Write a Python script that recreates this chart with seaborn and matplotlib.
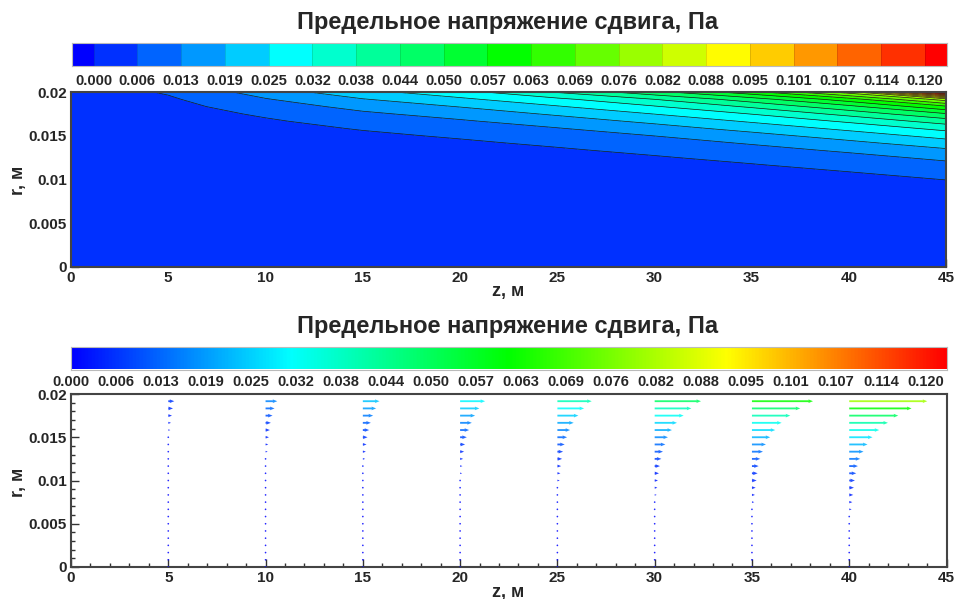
import numpy as np
import matplotlib
matplotlib.use("Agg")
import matplotlib.pyplot as plt
import seaborn as sns
from matplotlib.colors import ListedColormap, Normalize
from matplotlib.ticker import MultipleLocator

# ---------------- data ----------------
title = "Предельное напряжение сдвига, Па"
x_label = "z, м"
y_label = "r, м"

# colour-bar level labels (Pa)
level_labels = ["0.000", "0.006", "0.013", "0.019", "0.025", "0.032", "0.038",
                "0.044", "0.050", "0.057", "0.063", "0.069", "0.076", "0.082",
                "0.088", "0.095", "0.101", "0.107", "0.114", "0.120"]
level_min, level_max = 0.0, 0.12

x_ticks = [0, 5, 10, 15, 20, 25, 30, 35, 40, 45]
x_tick_labels = ["0", "5", "10", "15", "20", "25", "30", "35", "40", "45"]
y_ticks = [0.0, 0.005, 0.01, 0.015, 0.02]
y_tick_labels = ["0", "0.005", "0.01", "0.015", "0.02"]

# grid stations (r ascending, last one is the wall r = 0.02)
z_nodes = [0, 5, 10, 15, 20, 25, 30, 35, 40, 45]
r_nodes = [0.0, 0.000833, 0.001667, 0.0025, 0.003333, 0.004167, 0.005, 0.005833,
           0.006667, 0.0075, 0.008333, 0.009167, 0.01, 0.010833, 0.011667, 0.0125,
           0.013333, 0.014167, 0.015, 0.015833, 0.016667, 0.0175, 0.018333, 0.019167,
           0.02]

# limit shear stress, mPa, at each r node
tau_mPa_z00 = [0] * 17 + [0.2, 0.4, 0.6, 0.9, 1.2, 1.5, 2.0, 2.5]
tau_mPa_z05 = [0] * 12 + [0.06, 0.26, 0.46, 0.69, 0.99, 1.29, 1.65, 2.15, 2.71,
                          3.44, 4.30, 5.42, 7.00]
tau_mPa_z10 = [0] * 9 + [0.08, 0.28, 0.48, 0.72, 1.02, 1.32, 1.70, 2.20, 2.78,
                         3.52, 4.40, 5.56, 7.20, 9.44, 12.2, 15.5]
tau_mPa_z15 = [0] * 7 + [0.03, 0.23, 0.43, 0.65, 0.95, 1.25, 1.58, 2.08, 2.61,
                         3.33, 4.16, 5.22, 6.72, 8.82, 11.5, 14.6, 18.6, 23.3]
tau_mPa_z20 = [0] * 6 + [0.06, 0.26, 0.46, 0.69, 0.99, 1.29, 1.65, 2.15, 2.71,
                         3.44, 4.30, 5.42, 7.00, 9.18, 11.9, 15.1, 19.2, 24.0, 29.3]
tau_mPa_z25 = [0] * 5 + [0.09, 0.29, 0.49, 0.73, 1.03, 1.33, 1.72, 2.22, 2.81,
                         3.55, 4.44, 5.62, 7.28, 9.54, 12.3, 15.7, 19.9, 24.7, 30.1,
                         38.5]
tau_mPa_z30 = [0] * 4 + [0.12, 0.32, 0.52, 0.77, 1.07, 1.37, 1.79, 2.29, 2.91,
                         3.66, 4.58, 5.81, 7.56, 9.91, 12.7, 16.2, 20.5, 25.4, 31.0,
                         37.9, 48.5]
tau_mPa_z35 = [0] * 3 + [0.14, 0.34, 0.54, 0.82, 1.12, 1.42, 1.86, 2.36, 3.00,
                         3.78, 4.72, 6.01, 7.84, 10.3, 13.2, 16.7, 21.2, 26.1, 31.8,
                         38.9, 47.5, 61.0]
tau_mPa_z40 = [0, 0, 0.17, 0.37, 0.57, 0.86, 1.16, 1.46, 1.93, 2.43, 3.10, 3.89,
               4.86, 6.20, 8.12, 10.6, 13.6, 17.3, 21.8, 26.8, 32.7, 40.0, 48.7,
               60.3, 79.0]
tau_mPa_z45 = [0, 0.2, 0.4, 0.6, 0.9, 1.2, 1.5, 2.0, 2.5, 3.2, 4.0, 5.0,
               6.4, 8.4, 11.0, 14.0, 17.8, 22.5, 27.5, 33.5, 41.0, 50.0, 62.0,
               79.0, 125.0]

# lower panel: arrow stations and arrow lengths (relative units, r ascending,
# one value per r node below the wall)
z_arrows = [5, 10, 15, 20, 25, 30, 35, 40]
vec_z05 = [0, 0.02, 0.03, 0.04, 0.05, 0.06, 0.08, 0.10, 0.12, 0.15, 0.20, 0.25,
           0.30, 0.40, 0.50, 0.60, 0.80, 1.0, 1.3, 2.0, 2.7, 3.7, 4.7, 6.0]
vec_z10 = [0, 0.03, 0.05, 0.08, 0.10, 0.15, 0.20, 0.25, 0.30, 0.40, 0.50, 0.60,
           0.80, 1.0, 1.3, 1.7, 2.1, 2.7, 3.4, 4.3, 5.3, 7.0, 9.0, 11.7]
vec_z15 = [0, 0.04, 0.07, 0.10, 0.15, 0.20, 0.27, 0.35, 0.45, 0.55, 0.70, 0.90,
           1.1, 1.4, 1.7, 2.3, 3.0, 3.7, 4.7, 6.3, 8.0, 10.3, 13.3, 16.7]
vec_z20 = [0, 0.04, 0.08, 0.12, 0.18, 0.25, 0.35, 0.45, 0.60, 0.80, 1.0, 1.2,
           1.6, 2.0, 2.3, 3.0, 4.0, 5.0, 6.7, 9.0, 11.7, 15.0, 19.3, 25.0]
vec_z25 = [0, 0.05, 0.10, 0.16, 0.24, 0.33, 0.45, 0.60, 0.80, 1.0, 1.3, 1.7,
           2.3, 3.0, 3.7, 4.7, 5.7, 7.3, 9.7, 12.7, 16.3, 21.0, 26.7, 34.3]
vec_z30 = [0, 0.07, 0.15, 0.24, 0.35, 0.50, 0.70, 0.90, 1.2, 1.6, 2.0, 2.7,
           3.3, 4.3, 5.3, 6.7, 8.3, 10.7, 13.3, 17.3, 22.3, 29.0, 36.7, 46.3]
vec_z35 = [0, 0.10, 0.20, 0.33, 0.50, 0.75, 1.0, 1.4, 1.8, 2.3, 3.0, 3.7,
           4.7, 5.7, 6.7, 8.3, 11.0, 14.0, 18.3, 23.3, 29.7, 38.3, 48.3, 61.0]
vec_z40 = [0, 0.12, 0.27, 0.45, 0.70, 1.0, 1.35, 1.8, 2.4, 3.1, 4.0, 4.7,
           5.7, 7.0, 8.7, 11.0, 14.3, 18.3, 23.3, 30.0, 38.7, 49.0, 62.3, 78.0]

# ---------------- assemble ----------------
profiles = [tau_mPa_z00, tau_mPa_z05, tau_mPa_z10, tau_mPa_z15, tau_mPa_z20,
            tau_mPa_z25, tau_mPa_z30, tau_mPa_z35, tau_mPa_z40, tau_mPa_z45]
T_full = np.array(profiles, dtype=float).T * 1e-3          # (25, 10) in Pa
R_full = np.array(r_nodes)
Zg, Rg = np.meshgrid(np.array(z_nodes, float), R_full)

arrow_idx = [z_nodes.index(z) for z in z_arrows]
n_arrow_rows = len(vec_z05)
# each vector is coloured by the nodal value on the outer face of its cell
T_arr = T_full[1:n_arrow_rows + 1, arrow_idx]
V_arr = np.array([vec_z05, vec_z10, vec_z15, vec_z20, vec_z25, vec_z30,
                  vec_z35, vec_z40], dtype=float).T
Xq, Yq = np.meshgrid(np.array(z_arrows, float), R_full[:n_arrow_rows])

levels = np.linspace(level_min, level_max, len(level_labels))
dlev = levels[1] - levels[0]

# ---------------- style ----------------
sns.set_theme(style="ticks")
plt.rcParams["font.family"] = ["Liberation Sans", "DejaVu Sans"]
plt.rcParams["font.weight"] = "bold"
plt.rcParams["axes.labelweight"] = "bold"

anchors = ["#0000ff", "#00ffff", "#00ff00", "#ffff00", "#ff0000"]
palette = sns.blend_palette(anchors, n_colors=len(levels) + 1)
cmap_cont = sns.blend_palette(anchors, as_cmap=True)

W, H = 966, 599
fig = plt.figure(figsize=(W / 100, H / 100), dpi=100)


def px_axes(x0, y0, x1, y1):
    return fig.add_axes([x0 / W, 1 - y1 / H, (x1 - x0) / W, (y1 - y0) / H])


def style_axes(ax):
    ax.set_xlim(0, 45)
    ax.set_ylim(0, 0.02)
    ax.set_xticks(x_ticks)
    ax.set_xticklabels(x_tick_labels)
    ax.set_yticks(y_ticks)
    ax.set_yticklabels(y_tick_labels)
    ax.xaxis.set_minor_locator(MultipleLocator(1))
    ax.yaxis.set_minor_locator(MultipleLocator(0.001))
    ax.tick_params(which="both", direction="in", top=False, right=False,
                   color="#333333", width=1.0)
    ax.tick_params(which="major", length=6, labelsize=11, pad=3)
    ax.tick_params(which="minor", length=3)
    for lab in ax.get_xticklabels() + ax.get_yticklabels():
        lab.set_fontweight("bold")
    for sp in ax.spines.values():
        sp.set_color("#444444")
        sp.set_linewidth(1.5)
        sp.set_visible(True)


# ---------------- top panel: contour ----------------
fig.text(508 / W, 1 - 22 / H, title, ha="center", va="center",
         fontsize=17, fontweight="bold")

cax1 = px_axes(71.7, 43, 946.7, 66)
bounds = np.concatenate([[levels[0] - dlev / 2], levels, [levels[-1] + dlev / 2]])
cax1.pcolormesh(bounds, [0, 1], np.arange(len(bounds) - 1).reshape(1, -1),
                cmap=ListedColormap(palette), edgecolors=(0, 0, 0, 0.12),
                linewidth=0.6)
cax1.set_xlim(bounds[0], bounds[-1])
cax1.set_ylim(0, 1)
cax1.set_yticks([])
cax1.set_xticks(levels)
cax1.set_xticklabels(level_labels)
cax1.tick_params(axis="x", length=0, labelsize=10.5, pad=6)
for sp in cax1.spines.values():
    sp.set_color("#bbbbbb")
    sp.set_linewidth(0.8)

ax1 = px_axes(71, 92, 946, 267)
ax1.contourf(Zg, Rg, T_full, levels=levels, colors=palette[1:], extend="max")
ax1.contour(Zg, Rg, T_full, levels=levels[1:], colors="k", linewidths=0.5)
style_axes(ax1)
fig.text(508 / W, 1 - 291 / H, x_label, ha="center", va="center",
         fontsize=13, fontweight="bold")
fig.text(18 / W, 1 - 180 / H, y_label, ha="center", va="center", rotation=90,
         fontsize=13, fontweight="bold")

# ---------------- bottom panel: arrows ----------------
fig.text(508 / W, 1 - 327 / H, title, ha="center", va="center",
         fontsize=17, fontweight="bold")

bar2_x0, bar2_x1, bar2_last = 71.0, 946.7, 926.0   # last label centre (px)
cax2 = px_axes(bar2_x0, 347, bar2_x1, 369.5)
bar2_hi = level_max * (bar2_x1 - bar2_x0) / (bar2_last - bar2_x0)
grad = np.linspace(level_min, bar2_hi, 512).reshape(1, -1)
cax2.imshow(grad, aspect="auto", cmap=cmap_cont, extent=(level_min, bar2_hi, 0, 1),
            vmin=level_min, vmax=bar2_hi)
cax2.set_xlim(level_min, bar2_hi)
cax2.set_ylim(0, 1)
cax2.set_yticks([])
cax2.set_xticks(levels)
cax2.set_xticklabels(level_labels)
cax2.tick_params(axis="x", length=0, labelsize=10.5, pad=4)
for sp in cax2.spines.values():
    sp.set_color("#bbbbbb")
    sp.set_linewidth(0.8)

ax2 = px_axes(71, 394, 946.5, 567)
px_per_z = 875.0 / 45.0
U = V_arr / px_per_z
ax2.quiver(Xq, Yq, U, np.zeros_like(U), T_arr, cmap=cmap_cont,
           norm=Normalize(level_min, level_max), angles="xy", scale_units="xy",
           scale=1, width=0.0021, headwidth=2.0, headlength=2.5,
           headaxislength=2.3, pivot="tail", alpha=0.85, zorder=3)
style_axes(ax2)
fig.text(508 / W, 1 - 592 / H, x_label, ha="center", va="center",
         fontsize=13, fontweight="bold")
fig.text(18 / W, 1 - 482 / H, y_label, ha="center", va="center", rotation=90,
         fontsize=13, fontweight="bold")

fig.savefig("out.png", dpi=100)
